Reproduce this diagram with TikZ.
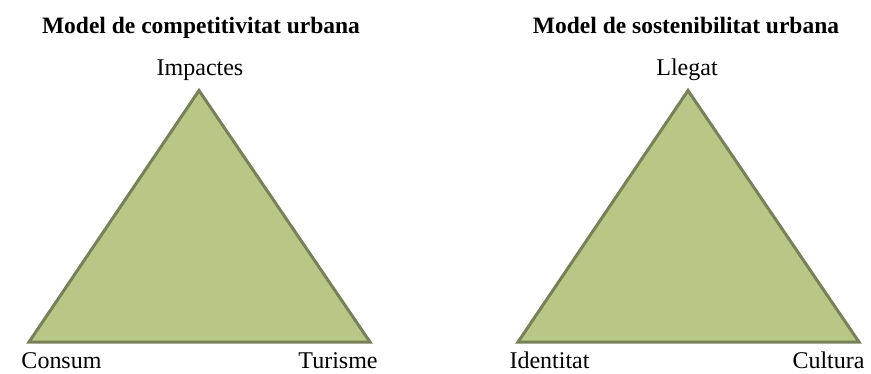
\documentclass[tikz,border=0pt]{standalone}
\usepackage{fontspec}
\setmainfont{Liberation Serif}
\usetikzlibrary{positioning}

\definecolor{triFill}{RGB}{185,199,134}
\definecolor{triLine}{RGB}{120,128,88}

\begin{document}
\begin{tikzpicture}[x=1pt,y=-1pt]

      \tikzstyle{titlebox}=[font=\bfseries\fontsize{23.5}{28}\selectfont,
        anchor=base,inner sep=0pt]
      \tikzstyle{vertexlabel}=[font=\fontsize{24}{28}\selectfont,
        anchor=base,inner sep=0pt]
      \tikzstyle{triangle}=[fill=triFill,draw=triLine,
        line width=3pt,line join=miter]

      \useasboundingbox (0,0) rectangle (871,373);

      % competitivitat
      \node(Title1)[titlebox] at (201,33){Model de competitivitat urbana};
      \coordinate (Top1) at (199,90.5);
      \coordinate (Left1) at (29,342);
      \coordinate (Right1) at (370,342);
      \draw [triangle] (Top1)--(Left1)--(Right1)--cycle;

      \node(Impactes)[vertexlabel] at (200,75){Impactes};
      \node(Consum)[vertexlabel] at (61.5,368){Consum};
      \node(Turisme)[vertexlabel] at (338,368){Turisme};

      % sostenibilitat
      \node(Title2)[titlebox] at (686,33){Model de sostenibilitat urbana};
      \coordinate (Top2) at (688,90.5);
      \coordinate (Left2) at (518,342);
      \coordinate (Right2) at (859,342);
      \draw [triangle] (Top2)--(Left2)--(Right2)--cycle;

      \node(Llegat)[vertexlabel] at (687,75){Llegat};
      \node(Identitat)[vertexlabel] at (549.5,368){Identitat};
      \node(Cultura)[vertexlabel] at (828.5,368){Cultura};

    \end{tikzpicture}
\end{document}
